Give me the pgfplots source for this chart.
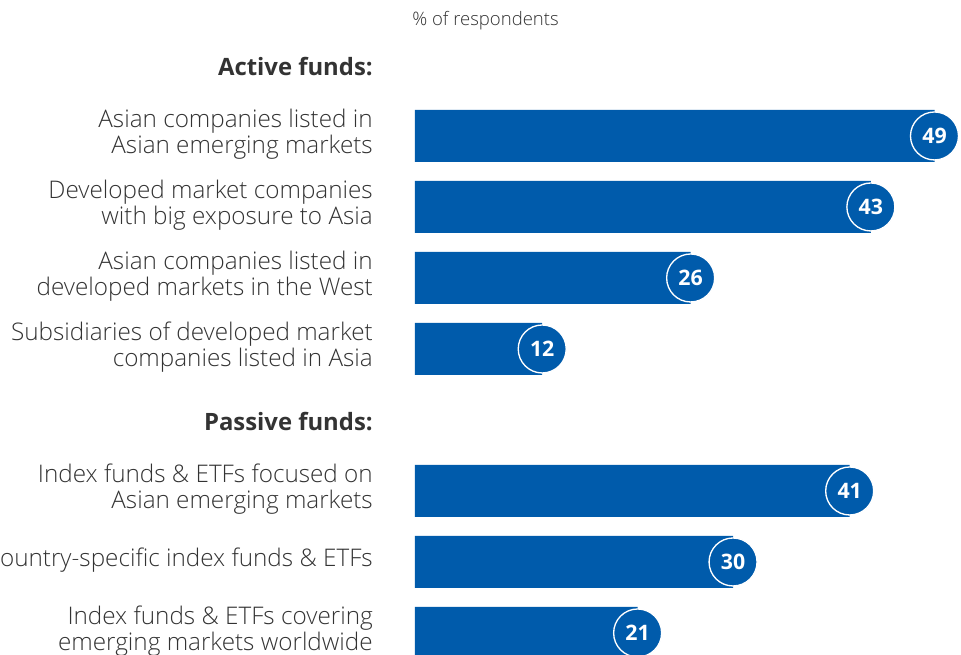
\documentclass[border=0pt]{standalone}
\usepackage{pgfplots}
\pgfplotsset{compat=1.18}
\usepackage{fontspec}
\setmainfont{Open Sans}[UprightFont={* Light}, BoldFont={* Bold}]
\definecolor{barblue}{HTML}{005BAB}
\definecolor{labgray}{HTML}{333333}
\begin{document}
\begin{tikzpicture}
\begin{axis}[
 at={(311.25pt,0pt)}, anchor=south west,
 scale only axis, width=409.5pt, height=491.25pt,
 xmin=0, xmax=51.5, ymin=-1.915, ymax=7.31, y dir=reverse,
 xbar, bar width=39pt, bar shift=0pt,
 axis line style={draw=none}, major tick length=0pt,
 xtick=\empty,
 ytick={-0.944,0,1,2,3,4.056,5,6,7},
 yticklabels={
  {\fontsize{17.9}{19.5}\selectfont\bfseries Active funds:},
  {Asian companies listed in\\Asian emerging markets},
  {Developed market companies\\with big exposure to Asia},
  {Asian companies listed in\\developed markets in the West},
  {Subsidiaries of developed market\\companies listed in Asia},
  {\fontsize{17.9}{19.5}\selectfont\bfseries Passive funds:},
  {Index funds \& ETFs focused on\\Asian emerging markets},
  {Country-specific index funds \& ETFs},
  {Index funds \& ETFs covering\\emerging markets worldwide}},
 yticklabel style={anchor=east, align=right, inner sep=0pt, xshift=-31.5pt, yshift=1.5pt,
   font=\fontsize{18.2}{19.5}\selectfont, text=labgray},
 clip=false,
 nodes near coords={\pgfmathprintnumber[assume math mode=true]{\pgfplotspointmeta}},
 point meta=x,
 every node near coord/.append style={anchor=center, circle, fill=barblue, draw=white,
   line width=1pt, minimum size=36pt, inner sep=0pt, text=white,
   font=\bfseries\fontsize{16}{16}\selectfont},
]
\addplot[fill=barblue, draw=none] coordinates {(49,0) (43,1) (26,2) (12,3) (41,5) (30,6) (21,7)};
\node[anchor=west, inner sep=0pt, text=labgray, font=\fontsize{13.9}{13.9}\selectfont, xshift=-2.25pt] at (axis cs:0,-1.63) {\% of respondents};
\end{axis}
\pgfresetboundingbox
\path (0,0) rectangle (720.75pt,491.25pt);
\end{tikzpicture}
\end{document}
